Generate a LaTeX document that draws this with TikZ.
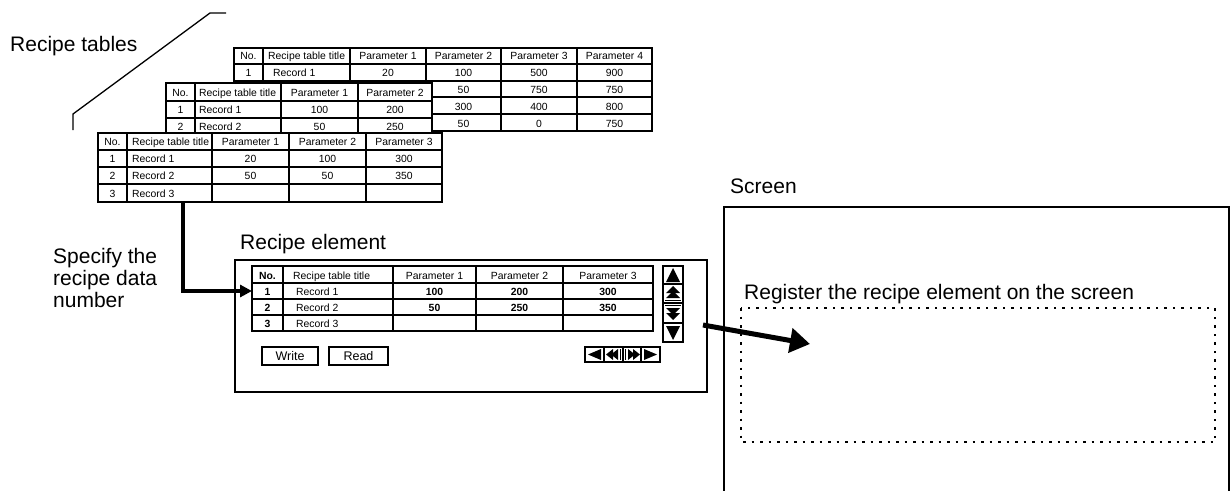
\documentclass[tikz,border=0pt]{standalone}
\usepackage{fontspec}
\setmainfont{Liberation Sans}
\usetikzlibrary{arrows.meta}
\begin{document}
\begin{tikzpicture}[x=1pt,y=-1pt,
  lbl/.style={inner sep=0pt,font=\fontsize{21}{24}\selectfont,anchor=base west},
  tt/.style={inner sep=0pt,font=\fontsize{10.4}{12}\selectfont,anchor=base},
  ttl/.style={tt,anchor=base west},
  ttb/.style={tt,font=\fontsize{10.4}{12}\selectfont\bfseries},
  btnt/.style={inner sep=0pt,font=\fontsize{12.5}{14}\selectfont},
  gridline/.style={line width=1.2pt},
  framebox/.style={line width=1.7pt},
  thickbox/.style={line width=2pt},
  connector/.style={line width=3.5pt,-{Triangle[length=12pt,width=12pt]}},
  bigarrow/.style={line width=5pt,-{Triangle[length=20pt,width=24pt]}},
  dotbox/.style={line width=2pt,dash pattern=on 2.5pt off 6pt}]
\useasboundingbox (0,0) rectangle (1231,490);

% ---------- labels ----------
\node[lbl] (lrt) at (10,51) {Recipe tables};
\draw[line width=1.3pt] (73,130) -- (73,114) -- (210,13) -- (226,13);
\node[lbl] (lsp1) at (53,263) {Specify the};
\node[lbl] (lsp2) at (53,285) {recipe data};
\node[lbl] (lsp3) at (53,307) {number};
\node[lbl] (lre) at (240,249) {Recipe element};
\node[lbl] (lsc) at (730,193) {Screen};
\node[lbl] (lreg) at (744,299) {Register the recipe element on the screen};

% ---------- Table A (back) ----------
\fill[white] (234,48) rectangle (652,131);
\draw[framebox] (234,48) rectangle (652,131);
\foreach \x in {263,350,426,501,577} \draw[gridline] (\x,48) -- (\x,131);
\foreach \y in {64,81,97,114} \draw[gridline] (234,\y) -- (652,\y);
\draw[framebox] (234,64) -- (652,64);
\node[tt] (A-no) at (248.5,59.5) {No.};
\node[ttl] (A-ti) at (268,59.5) {Recipe table title};
\foreach \x/\t [count=\i] in {388/Parameter 1,463.5/Parameter 2,539/Parameter 3,614.5/Parameter 4}
  \node[tt] (A-h\i) at (\x,59.5) {\t};
\node[tt] (A-r1n) at (248.5,76.5) {1};
\node[ttl] (A-r1t) at (273,76.5) {Record 1};
\foreach \x/\t [count=\i] in {388/20,463.5/100,539/500,614.5/900}
  \node[tt] (A-r1v\i) at (\x,76.5) {\t};
\foreach \x/\t [count=\i] in {463.5/50,539/750,614.5/750}
  \node[tt] (A-r2v\i) at (\x,93) {\t};
\foreach \x/\t [count=\i] in {463.5/300,539/400,614.5/800}
  \node[tt] (A-r3v\i) at (\x,110) {\t};
\foreach \x/\t [count=\i] in {463.5/50,539/0,614.5/750}
  \node[tt] (A-r4v\i) at (\x,127) {\t};

% ---------- Table B (middle) ----------
\fill[white] (166,83) rectangle (432,150);
\draw[framebox] (166,83) rectangle (432,150);
\foreach \x in {195,281,358} \draw[gridline] (\x,83) -- (\x,150);
\foreach \y in {118,134} \draw[gridline] (166,\y) -- (432,\y);
\draw[framebox] (166,101) -- (432,101);
\node[tt] (B-no) at (180.5,96.5) {No.};
\node[ttl] (B-ti) at (199,96.5) {Recipe table title};
\node[tt] (B-h1) at (319.5,96.5) {Parameter 1};
\node[tt] (B-h2) at (395,96.5) {Parameter 2};
\node[tt] (B-r1n) at (180.5,113.5) {1};
\node[ttl] (B-r1t) at (199,113.5) {Record 1};
\node[tt] (B-r1a) at (319.5,113.5) {100};
\node[tt] (B-r1b) at (395,113.5) {200};
\node[tt] (B-r2n) at (180.5,130) {2};
\node[ttl] (B-r2t) at (199,130) {Record 2};
\node[tt] (B-r2a) at (319.5,130) {50};
\node[tt] (B-r2b) at (395,130) {250};

% ---------- Table C (front) ----------
\fill[white] (98,133) rectangle (442,202);
\draw[framebox] (98,133) rectangle (442,202);
\foreach \x in {127,212,289,366} \draw[gridline] (\x,133) -- (\x,202);
\foreach \y in {150,167,184} \draw[gridline] (98,\y) -- (442,\y);
\node[tt] (C-no) at (112.5,145.5) {No.};
\node[ttl] (C-ti) at (132,145.5) {Recipe table title};
\foreach \x/\t [count=\i] in {250.5/Parameter 1,327.5/Parameter 2,404/Parameter 3}
  \node[tt] (C-h\i) at (\x,145.5) {\t};
\foreach \y/\n [count=\i] in {162.5/1,179.5/2,197/3} {
  \node[tt] (C-n\i) at (112.5,\y) {\n};
  \node[ttl] (C-t\i) at (132,\y) {Record \n};
}
\foreach \x/\t [count=\i] in {250.5/20,327.5/100,404/300}
  \node[tt] (C-r1v\i) at (\x,162.5) {\t};
\foreach \x/\t [count=\i] in {250.5/50,327.5/50,404/350}
  \node[tt] (C-r2v\i) at (\x,179.5) {\t};

% ---------- Recipe element ----------
\draw[thickbox] (235,260) rectangle (707,392);
\draw[framebox] (252,266) rectangle (653,331);
\foreach \x in {283,393,476,563} \draw[gridline] (\x,266) -- (\x,331);
\foreach \y in {283,299,315} \draw[gridline] (252,\y) -- (653,\y);
\node[ttb] (E-no) at (267.5,279) {No.};
\node[ttl] (E-ti) at (293,279) {Recipe table title};
\foreach \x/\t [count=\i] in {434.5/Parameter 1,519.5/Parameter 2,608/Parameter 3}
  \node[tt] (E-h\i) at (\x,279) {\t};
\foreach \y/\n [count=\i] in {295/1,311/2,327/3} {
  \node[ttb] (E-n\i) at (267.5,\y) {\n};
  \node[ttl] (E-t\i) at (296,\y) {Record \n};
}
\foreach \x/\t [count=\i] in {434.5/100,519.5/200,608/300}
  \node[ttb] (E-r1v\i) at (\x,295) {\t};
\foreach \x/\t [count=\i] in {434.5/50,519.5/250,608/350}
  \node[ttb] (E-r2v\i) at (\x,311) {\t};

% vertical scroll buttons
\draw[thickbox] (663,266) rectangle (683,342);
\draw[gridline] (663,284) -- (683,284);
\draw[gridline] (663,303) -- (683,303);
\draw[gridline] (663,323) -- (683,323);
\fill (666,282) -- (680,282) -- (673,268) -- cycle;
\fill (666,293) -- (680,293) -- (673,286) -- cycle;
\fill (666,298) -- (680,298) -- (673,291) -- cycle;
\draw[line width=1pt] (665,300.5) -- (681,300.5);
\draw[line width=1pt] (665,305.5) -- (681,305.5);
\fill (666,308) -- (680,308) -- (673,315) -- cycle;
\fill (666,313) -- (680,313) -- (673,320) -- cycle;
\fill (666,326) -- (680,326) -- (673,340) -- cycle;

% horizontal scroll buttons
\draw[thickbox] (585,347) rectangle (660,362);
\foreach \x in {604,623,641} \draw[gridline] (\x,347) -- (\x,362);
\fill (588,354.5) -- (601,349) -- (601,360) -- cycle;
\fill (606,354.5) -- (613,349) -- (613,360) -- cycle;
\fill (611,354.5) -- (618,349) -- (618,360) -- cycle;
\draw[line width=1pt] (620.5,349) -- (620.5,360);
\draw[line width=1pt] (625.5,349) -- (625.5,360);
\fill (628,349) -- (628,360) -- (635,354.5) -- cycle;
\fill (633,349) -- (633,360) -- (640,354.5) -- cycle;
\fill (644,349) -- (644,360) -- (657,354.5) -- cycle;

% Write / Read buttons
\node[btnt,draw,line width=1.8pt,minimum width=56pt,minimum height=18pt] (bw) at (290,356) {Write};
\node[btnt,draw,line width=1.8pt,minimum width=59pt,minimum height=18pt] (br) at (358.5,356) {Read};

% ---------- Screen ----------
\draw[line width=1.8pt] (724,495) -- (724,207) -- (1229,207) -- (1229,495);
\draw[dotbox] (741,308) rectangle (1215,442);

% ---------- connectors ----------
\coordinate (cOut) at (183,202);
\coordinate (rIn) at (252,291);
\draw[connector] (cOut) |- (rIn);
\coordinate (eOut) at (703,325);
\coordinate (sIn) at (810,344);
\draw[bigarrow] (eOut) -- (sIn);
\end{tikzpicture}
\end{document}
